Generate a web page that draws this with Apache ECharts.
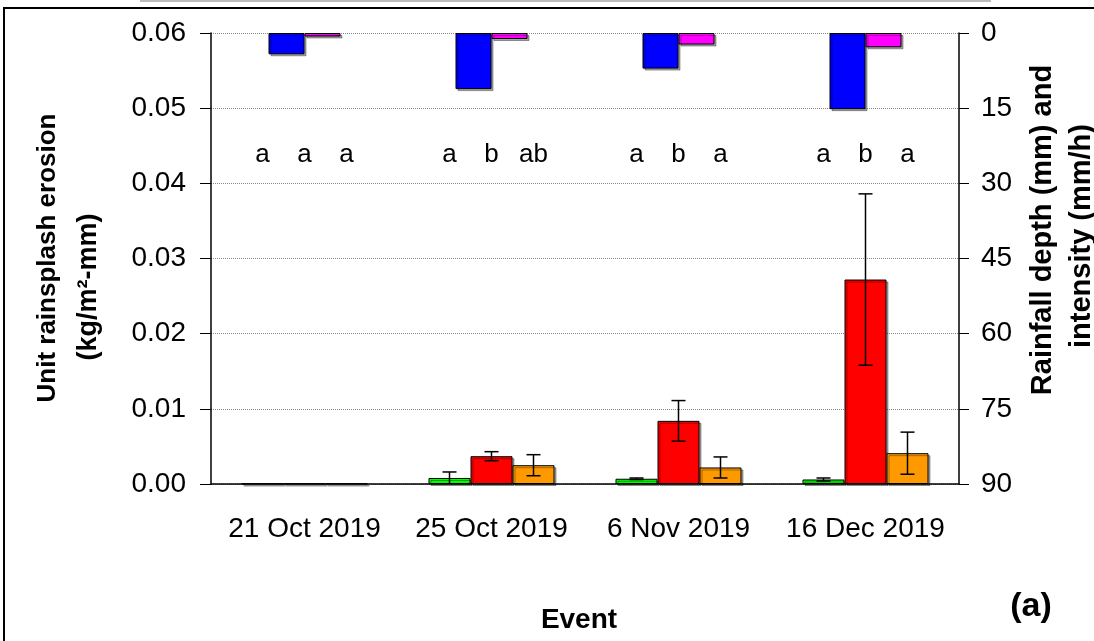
<!DOCTYPE html>
<html>
<head>
<meta charset="utf-8">
<script src="https://cdn.jsdelivr.net/npm/echarts@6/dist/echarts.min.js"></script>
<style>
  html, body { margin: 0; padding: 0; background: #fff; }
  #chart { width: 1094px; height: 641px; }
</style>
</head>
<body>
<div id="chart"></div>
<script>
// events
const events = ['21 Oct 2019', '25 Oct 2019', '6 Nov 2019', '16 Dec 2019']

// unit rainsplash erosion (kg/m2-mm), means and sd
const greenMean = [0.00005, 0.0008, 0.0007, 0.0006]
const greenSd = [0, 0.0008, 0.0001, 0.0002]
const redMean = [0.00005, 0.0037, 0.0084, 0.0272]
const redSd = [0, 0.0006, 0.0027, 0.0114]
const orangeMean = [0.00005, 0.0025, 0.0022, 0.0041]
const orangeSd = [0, 0.0014, 0.0014, 0.0028]

// rainfall (right axis, drawn from top)
const rainDepth = [4.25, 11.2, 7.1, 15.2]
const rainIntensity = [0.7, 1.2, 2.3, 2.85]

// significance letters
const greenLetters = ['a', 'a', 'a', 'a']
const redLetters = ['a', 'b', 'b', 'b']
const orangeLetters = ['a', 'ab', 'a', 'a']
const letterLevel = 0.042

const FONT = 'Arial, "Liberation Sans", sans-serif'
const barW = 42

let chart = echarts.init(document.getElementById('chart'))

// error bar data: [cat, low, high, slot]
let errData = []
;[[greenMean, greenSd], [redMean, redSd], [orangeMean, orangeSd]].forEach(([m, s], slot) => {
  m.forEach((v, i) => {
    if (s[i] > 0) errData.push([i, v - s[i], v + s[i], slot])
  })
})

const barStyle = (color) => ({
  color: color,
  borderColor: '#000',
  borderWidth: 1,
  shadowColor: 'rgba(0,0,0,0.35)',
  shadowOffsetX: 2,
  shadowOffsetY: 2
})

const letterSeries = (letters) => ({
  type: 'bar',
  xAxisIndex: 2,
  yAxisIndex: 0,
  barWidth: barW,
  barGap: 0,
  silent: true,
  itemStyle: { color: 'rgba(0,0,0,0)' },
  label: {
    show: true,
    position: 'top',
    distance: 0,
    fontFamily: FONT,
    fontSize: 26,
    color: '#000',
    formatter: (p) => letters[p.dataIndex]
  },
  data: events.map(() => letterLevel)
})

let option = {
  animation: false,
  backgroundColor: '#fff',
  grid: { left: 211, right: 135, top: 33, bottom: 157 },
  xAxis: [
    {
      type: 'category',
      data: events,
      axisLine: { lineStyle: { color: '#000', width: 1.5 } },
      axisTick: { length: 10, lineStyle: { color: '#000' } },
      axisLabel: { interval: 0, fontFamily: FONT, fontSize: 28, color: '#000', margin: 31 }
    },
    { type: 'category', data: events, show: false },
    { type: 'category', data: events, show: false }
  ],
  yAxis: [
    {
      type: 'value',
      min: 0,
      max: 0.06,
      interval: 0.01,
      axisLine: { show: true, lineStyle: { color: '#000', width: 1.5 } },
      axisTick: { show: true, length: 11, lineStyle: { color: '#000' } },
      axisLabel: {
        fontFamily: FONT, fontSize: 28, color: '#000', margin: 25,
        formatter: (v) => v.toFixed(2)
      },
      splitLine: { show: true, lineStyle: { color: '#888', type: 'dotted', width: 1 } }
    },
    {
      type: 'value',
      position: 'right',
      inverse: true,
      min: 0,
      max: 90,
      interval: 15,
      axisLine: { show: true, lineStyle: { color: '#000', width: 1.5 } },
      axisTick: { show: true, length: 10, lineStyle: { color: '#000' } },
      axisLabel: { fontFamily: FONT, fontSize: 28, color: '#000', margin: 22 },
      splitLine: { show: false }
    }
  ],
  series: [
    {
      name: 'green', type: 'bar', xAxisIndex: 0, yAxisIndex: 0,
      barWidth: barW, barGap: 0, itemStyle: barStyle('#00FF00'), data: greenMean
    },
    {
      name: 'red', type: 'bar', xAxisIndex: 0, yAxisIndex: 0,
      barWidth: barW, barGap: 0, itemStyle: barStyle('#FF0000'), data: redMean
    },
    {
      name: 'orange', type: 'bar', xAxisIndex: 0, yAxisIndex: 0,
      barWidth: barW, barGap: 0, itemStyle: barStyle('#FF9900'), data: orangeMean
    },
    {
      name: 'Rainfall depth', type: 'bar', xAxisIndex: 1, yAxisIndex: 1,
      barWidth: 36, barGap: 0, itemStyle: barStyle('#0000FF'), data: rainDepth
    },
    {
      name: 'Rainfall intensity', type: 'bar', xAxisIndex: 1, yAxisIndex: 1,
      barWidth: 36, barGap: 0, itemStyle: barStyle('#FF00FF'), data: rainIntensity
    },
    letterSeries(greenLetters),
    letterSeries(redLetters),
    letterSeries(orangeLetters),
    {
      name: 'error', type: 'custom', xAxisIndex: 0, yAxisIndex: 0,
      clip: true, z: 10, silent: true,
      renderItem: (params, api) => {
        let c = api.value(0)
        let lo = api.coord([c, api.value(1)])
        let hi = api.coord([c, api.value(2)])
        let x = lo[0] + (api.value(3) - 1) * barW
        let cap = 7
        let st = { stroke: '#000', lineWidth: 1.5 }
        return {
          type: 'group',
          children: [
            { type: 'line', shape: { x1: x, y1: lo[1], x2: x, y2: hi[1] }, style: st },
            { type: 'line', shape: { x1: x - cap, y1: hi[1], x2: x + cap, y2: hi[1] }, style: st },
            { type: 'line', shape: { x1: x - cap, y1: lo[1], x2: x + cap, y2: lo[1] }, style: st }
          ]
        }
      },
      data: errData
    }
  ],
  graphic: [
    // figure frame
    { type: 'polyline', silent: true, shape: { points: [[4, 641], [4, 8], [1094, 8]] }, style: { stroke: '#000', lineWidth: 2, fill: null } },
    { type: 'line', silent: true, shape: { x1: 140, y1: 1, x2: 991, y2: 1 }, style: { stroke: '#bbb', lineWidth: 2 } },
    // axis titles
    { type: 'text', x: 48, y: 258, rotation: Math.PI / 2, style: { text: 'Unit rainsplash erosion', font: 'bold 26px ' + FONT, fill: '#000', align: 'center', verticalAlign: 'middle' } },
    { type: 'text', x: 89, y: 287, rotation: Math.PI / 2, style: { text: '(kg/m²-mm)', font: 'bold 27px ' + FONT, fill: '#000', align: 'center', verticalAlign: 'middle' } },
    { type: 'text', x: 1043, y: 230, rotation: Math.PI / 2, style: { text: 'Rainfall depth (mm) and', font: 'bold 29px ' + FONT, fill: '#000', align: 'center', verticalAlign: 'middle' } },
    { type: 'text', x: 1082, y: 236, rotation: Math.PI / 2, style: { text: 'intensity (mm/h)', font: 'bold 29px ' + FONT, fill: '#000', align: 'center', verticalAlign: 'middle' } },
    { type: 'text', x: 579, y: 620, style: { text: 'Event', font: 'bold 28px ' + FONT, fill: '#000', align: 'center', verticalAlign: 'middle' } },
    { type: 'text', x: 1031, y: 607, style: { text: '(a)', font: 'bold 34px ' + FONT, fill: '#000', align: 'center', verticalAlign: 'middle' } }
  ]
}

chart.setOption(option)
</script>
</body>
</html>
